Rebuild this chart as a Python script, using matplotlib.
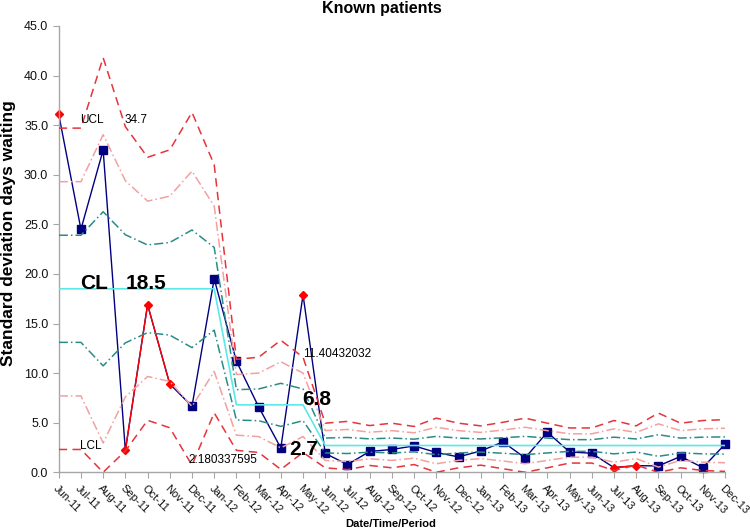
import matplotlib
matplotlib.use('Agg')
import matplotlib.pyplot as plt
import matplotlib.transforms as mtransforms
import numpy as np

plt.rcParams['font.family'] = ['Liberation Sans', 'DejaVu Sans']

months = ['Jun-11', 'Jul-11', 'Aug-11', 'Sep-11', 'Oct-11', 'Nov-11', 'Dec-11',
          'Jan-12', 'Feb-12', 'Mar-12', 'Apr-12', 'May-12', 'Jun-12', 'Jul-12',
          'Aug-12', 'Sep-12', 'Oct-12', 'Nov-12', 'Dec-12', 'Jan-13', 'Feb-13',
          'Mar-13', 'Apr-13', 'May-13', 'Jun-13', 'Jul-13', 'Aug-13', 'Sep-13',
          'Oct-13', 'Nov-13', 'Dec-13']

values = [36.1, 24.5, 32.5, 2.2, 16.9, 8.9, 6.66, 19.5, 11.2, 6.6, 2.45, 17.9,
          1.9, 0.78, 2.1, 2.3, 2.66, 2.0, 1.55, 2.15, 3.06, 1.45, 4.04, 2.05,
          1.92, 0.47, 0.67, 0.64, 1.6, 0.47, 2.83]

# 1 = special cause point (shown in red)
special = [1, 0, 0, 1, 1, 1, 0, 0, 0, 0, 0, 1, 0, 0, 0, 0, 0, 0, 0, 0, 0,
           0, 0, 0, 0, 1, 1, 0, 0, 0, 0]

cl = [18.5] * 8 + [6.8] * 4 + [2.7] * 19

ucl = [34.7, 34.7, 41.8, 34.85, 31.76, 32.51, 36.29, 31.01,
       11.39, 11.6, 13.31, 11.6,
       4.95, 5.13, 4.71, 4.95, 4.62, 5.46, 4.95, 4.68, 5.04, 5.46, 4.95,
       4.47, 4.47, 5.22, 4.68, 5.97, 4.95, 5.22, 5.31]
upper2 = [29.3, 29.3, 34.04, 29.4, 27.34, 27.84, 30.36, 26.84,
          9.86, 10.0, 11.14, 10.0,
          4.2, 4.32, 4.04, 4.2, 3.98, 4.54, 4.2, 4.02, 4.26, 4.54, 4.2,
          3.88, 3.88, 4.38, 4.02, 4.88, 4.2, 4.38, 4.44]
upper1 = [23.9, 23.9, 26.27, 23.95, 22.92, 23.17, 24.43, 22.67,
          8.33, 8.4, 8.97, 8.4,
          3.45, 3.51, 3.37, 3.45, 3.34, 3.62, 3.45, 3.36, 3.48, 3.62, 3.45,
          3.29, 3.29, 3.54, 3.36, 3.79, 3.45, 3.54, 3.57]
lower1 = [13.1, 13.1, 10.73, 13.05, 14.08, 13.83, 12.57, 14.33,
          5.27, 5.2, 4.63, 5.2,
          1.95, 1.89, 2.03, 1.95, 2.06, 1.78, 1.95, 2.04, 1.92, 1.78, 1.95,
          2.11, 2.11, 1.86, 2.04, 1.61, 1.95, 1.86, 1.83]
lower2 = [7.7, 7.7, 2.96, 7.6, 9.66, 9.16, 6.64, 10.16,
          3.74, 3.6, 2.46, 3.6,
          1.2, 1.08, 1.36, 1.2, 1.42, 0.86, 1.2, 1.38, 1.14, 0.86, 1.2,
          1.52, 1.52, 1.02, 1.38, 0.52, 1.2, 1.02, 0.96]
lcl = [2.3, 2.3, 0.0, 2.15, 5.24, 4.49, 0.71, 5.99,
       2.21, 2.0, 0.29, 2.0,
       0.45, 0.27, 0.69, 0.45, 0.78, 0.0, 0.45, 0.72, 0.36, 0.0, 0.45,
       0.93, 0.93, 0.18, 0.72, 0.0, 0.45, 0.18, 0.09]

x = np.arange(len(months))
vals = np.array(values, dtype=float)
sp = np.array(special, dtype=bool)
normal_vals = np.where(sp, np.nan, vals)
special_vals = np.where(sp, vals, np.nan)

fig = plt.figure(figsize=(7.5, 5.3), dpi=100)
ax = fig.add_axes([0.0783, 0.1089, 0.8884, 0.8421])

navy = '#000080'
red_lim = '#E5343B'
pink = '#F2A0A0'
teal = '#2A8C86'
cyan = '#5DE8E8'

# data
ax.plot(x, vals, color=navy, lw=1.0, zorder=2, clip_on=False)
ax.plot(x, normal_vals, linestyle='none', marker='s', ms=6, color=navy,
        zorder=2.1, clip_on=False)
ax.plot(x, special_vals, color='#FF0000', lw=1.0, marker='D', ms=4,
        zorder=2.2, clip_on=False)

# limits
ax.plot(x, ucl, color=red_lim, lw=1.1, ls=(0, (5.5, 3.5)), zorder=3)
ax.plot(x, lcl, color=red_lim, lw=1.1, ls=(0, (5.5, 3.5)), zorder=3)
ax.plot(x, upper2, color=pink, lw=1.1, ls=(0, (6, 2, 1, 2)), zorder=3)
ax.plot(x, lower2, color=pink, lw=1.1, ls=(0, (6, 2, 1, 2)), zorder=3)
ax.plot(x, upper1, color=teal, lw=1.1, ls=(0, (6, 2, 1, 2)), zorder=3)
ax.plot(x, lower1, color=teal, lw=1.1, ls=(0, (6, 2, 1, 2)), zorder=3)
ax.plot(x, cl, color=cyan, lw=1.2, zorder=3)

ax.set_xlim(0, 30)
ax.set_ylim(0, 45)
ax.set_yticks(np.arange(0, 46, 5))
ax.set_yticklabels([f'{v:.1f}' for v in np.arange(0, 46, 5)], fontsize=9)
ax.set_xticks(x)
ax.set_xticklabels(months, rotation=-45, ha='left', va='top',
                   rotation_mode='anchor', fontsize=8)
offset = mtransforms.ScaledTranslation(-2 / 100, 0, fig.dpi_scale_trans)
for lab in ax.get_xticklabels():
    lab.set_transform(lab.get_transform() + offset)
for spn in ['top', 'right']:
    ax.spines[spn].set_visible(False)
for spn in ['left', 'bottom']:
    ax.spines[spn].set_color('#A6A6A6')
    ax.spines[spn].set_linewidth(1.0)
ax.tick_params(axis='both', direction='out', length=4, color='#A6A6A6',
               labelcolor='#111111')
ax.tick_params(axis='x', pad=4)

# annotations
ax.text(0.96, 35.5, 'UCL', fontsize=8.5, ha='left', va='center')
ax.text(2.95, 35.5, '34.7', fontsize=8.5, ha='left', va='center')
ax.text(0.96, 19.0, 'CL', fontsize=15, fontweight='bold', ha='left', va='center')
ax.text(3.0, 19.0, '18.5', fontsize=15, fontweight='bold', ha='left', va='center')
ax.text(0.96, 2.7, 'LCL', fontsize=8.5, ha='left', va='center')
ax.text(5.83, 1.25, '2.180337595', fontsize=8.5, ha='left', va='center')
ax.text(11.0, 11.9, '11.40432032', fontsize=8.5, ha='left', va='center')
ax.text(10.95, 7.3, '6.8', fontsize=15, fontweight='bold', ha='left', va='center')
ax.text(10.4, 2.3, '2.7', fontsize=15, fontweight='bold', ha='left', va='center')

fig.text(382 / 750, 1 - 8 / 530, 'Known patients', fontsize=11.5,
         fontweight='bold', ha='center', va='center')
fig.text(9 / 750, 1 - 233 / 530, 'Standard deviation days waiting',
         fontsize=12.5, fontweight='bold', rotation=90, ha='center', va='center')
fig.text(391 / 750, 1 - 524 / 530, 'Date/Time/Period', fontsize=8,
         fontweight='bold', ha='center', va='center')

fig.savefig('out.png', dpi=100)
